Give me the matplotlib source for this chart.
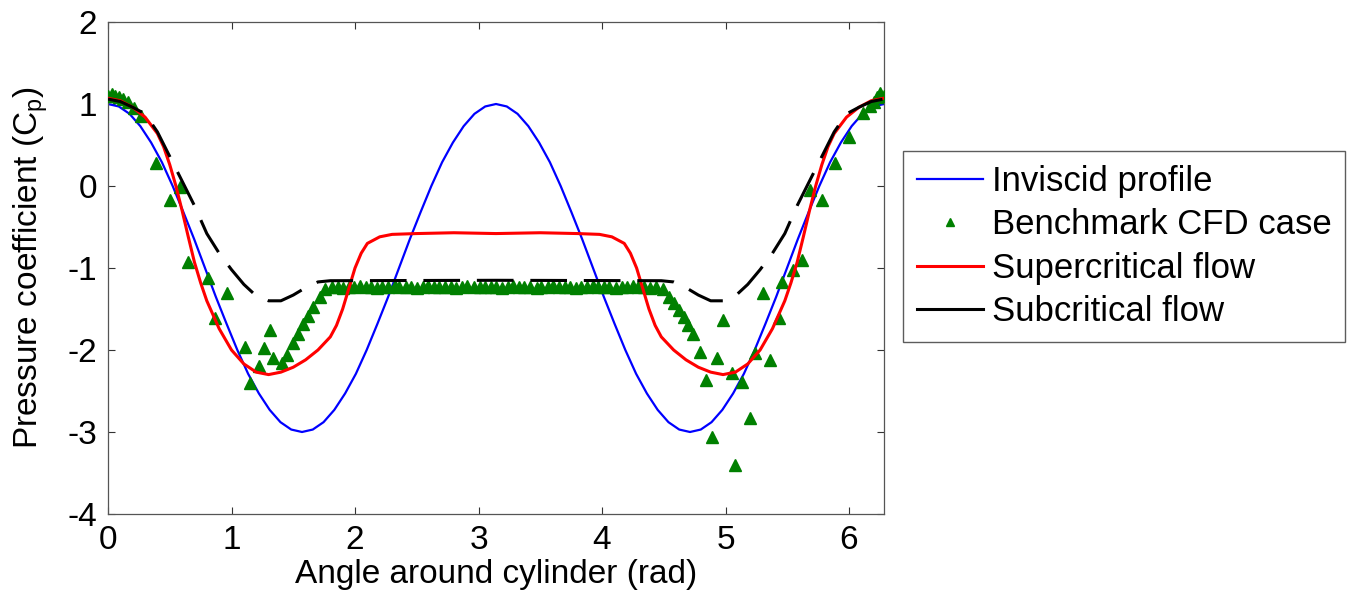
import numpy as np
import matplotlib
matplotlib.use("Agg")
import matplotlib.pyplot as plt

plt.rcParams["font.family"] = ["Liberation Sans", "DejaVu Sans"]
plt.rcParams["mathtext.fontset"] = "custom"
plt.rcParams["mathtext.rm"] = "Liberation Sans"
plt.rcParams["axes.unicode_minus"] = False

# Inviscid profile, sampled every 5 degrees around the cylinder
ANGLE_INV = np.deg2rad(np.arange(0, 361, 5))
CP_INV = [
    1.00, 0.97, 0.88, 0.73, 0.53, 0.29, 0.00, -0.32, -0.65, -1.00,
    -1.35, -1.68, -2.00, -2.29, -2.53, -2.73, -2.88, -2.97, -3.00,
    -2.97, -2.88, -2.73, -2.53, -2.29, -2.00, -1.68, -1.35, -1.00,
    -0.65, -0.32, 0.00, 0.29, 0.53, 0.73, 0.88, 0.97, 1.00,
    0.97, 0.88, 0.73, 0.53, 0.29, 0.00, -0.32, -0.65, -1.00,
    -1.35, -1.68, -2.00, -2.29, -2.53, -2.73, -2.88, -2.97, -3.00,
    -2.97, -2.88, -2.73, -2.53, -2.29, -2.00, -1.68, -1.35, -1.00,
    -0.65, -0.32, 0.00, 0.29, 0.53, 0.73, 0.88, 0.97, 1.00,
]

# Supercritical flow
ANGLE_SUP = [
    0.00, 0.10, 0.20, 0.30, 0.40, 0.45, 0.50, 0.55, 0.60, 0.65, 0.70, 0.75,
    0.80, 0.90, 1.00, 1.10, 1.20, 1.30, 1.40, 1.50, 1.60, 1.70, 1.80, 1.85,
    1.90, 1.95, 2.00, 2.05, 2.10, 2.20, 2.30, 2.50, 2.80, 3.14, 3.50, 3.80,
    3.98, 4.08, 4.18, 4.23, 4.28, 4.33, 4.38, 4.43, 4.48, 4.58, 4.68, 4.78,
    4.88, 4.98, 5.08, 5.18, 5.28, 5.38, 5.48, 5.53, 5.58, 5.63, 5.68, 5.73,
    5.78, 5.83, 5.88, 5.98, 6.08, 6.18, 6.28,
]
CP_SUP = [
    1.07, 1.04, 0.96, 0.84, 0.64, 0.48, 0.26, 0.00, -0.30, -0.62, -0.93, -1.18,
    -1.40, -1.74, -2.00, -2.17, -2.27, -2.30, -2.27, -2.21, -2.12, -2.00, -1.84, -1.70,
    -1.50, -1.25, -1.00, -0.82, -0.70, -0.62, -0.59, -0.58, -0.57, -0.58, -0.57, -0.58,
    -0.59, -0.62, -0.70, -0.82, -1.00, -1.25, -1.50, -1.70, -1.84, -2.00, -2.12, -2.21,
    -2.27, -2.30, -2.27, -2.17, -2.00, -1.74, -1.40, -1.18, -0.93, -0.62, -0.30, 0.00,
    0.26, 0.48, 0.64, 0.84, 0.96, 1.04, 1.07,
]

# Subcritical flow
ANGLE_SUB = [
    0.00, 0.10, 0.20, 0.30, 0.40, 0.50, 0.60, 0.70, 0.80, 0.90, 1.00, 1.10,
    1.20, 1.30, 1.40, 1.50, 1.60, 1.70, 1.80, 3.14, 4.48, 4.58, 4.68, 4.78,
    4.88, 4.98, 5.08, 5.18, 5.28, 5.38, 5.48, 5.58, 5.68, 5.78, 5.88, 5.98,
    6.08, 6.18, 6.28,
]
CP_SUB = [
    1.06, 1.03, 0.96, 0.88, 0.66, 0.36, 0.06, -0.24, -0.58, -0.82, -1.02, -1.20,
    -1.34, -1.40, -1.40, -1.33, -1.24, -1.17, -1.155, -1.15, -1.155, -1.17, -1.24, -1.33,
    -1.40, -1.40, -1.34, -1.20, -1.02, -0.82, -0.58, -0.24, 0.06, 0.36, 0.66, 0.88,
    0.96, 1.03, 1.06,
]

# Benchmark CFD case
ANGLE_CFD = [
    0.00, 0.03, 0.06, 0.09, 0.12, 0.16, 0.21, 0.27, 0.39, 0.50, 0.58, 0.65,
    0.81, 0.87, 0.96, 1.11, 1.15, 1.22, 1.26, 1.31, 1.34, 1.41, 1.45, 1.50,
    1.54, 1.58, 1.62, 1.66, 1.72, 1.76,
    1.81, 1.86, 1.90, 1.95, 1.99, 2.04, 2.09, 2.13, 2.18, 2.22, 2.27, 2.32,
    2.36, 2.41, 2.45, 2.50, 2.55, 2.59, 2.64, 2.68, 2.73, 2.78, 2.82, 2.87,
    2.91, 2.96, 3.01, 3.05, 3.10, 3.14, 3.19, 3.24, 3.28, 3.33, 3.37, 3.42,
    3.47, 3.51, 3.56, 3.60, 3.65, 3.70, 3.74, 3.79, 3.83, 3.88, 3.93, 3.97,
    4.02, 4.06, 4.11, 4.16, 4.20, 4.25, 4.29, 4.34, 4.39, 4.44, 4.49,
    4.54, 4.58, 4.62, 4.66, 4.70, 4.74, 4.79, 4.84, 4.89, 4.93, 4.98, 5.05,
    5.08, 5.13, 5.20, 5.24, 5.30, 5.36, 5.43, 5.46, 5.55, 5.62, 5.68, 5.78,
    5.89, 6.00, 6.11, 6.17, 6.20, 6.23, 6.25, 6.28,
]
CP_CFD = [
    1.10, 1.12, 1.10, 1.08, 1.06, 1.02, 0.95, 0.85, 0.28, -0.17, -0.01, -0.93,
    -1.12, -1.61, -1.31, -1.96, -2.40, -2.20, -1.98, -1.76, -2.10, -2.16, -2.06, -1.92,
    -1.80, -1.68, -1.58, -1.48, -1.35, -1.25,
    -1.23, -1.23, -1.24, -1.23, -1.23, -1.22, -1.23, -1.23, -1.24, -1.23, -1.23, -1.22,
    -1.23, -1.23, -1.23, -1.24, -1.23, -1.22, -1.23, -1.23, -1.23, -1.23, -1.24, -1.23,
    -1.22, -1.23, -1.23, -1.23, -1.23, -1.23, -1.24, -1.23, -1.22, -1.23, -1.23, -1.23,
    -1.24, -1.23, -1.23, -1.22, -1.23, -1.23, -1.23, -1.24, -1.23, -1.23, -1.22, -1.23,
    -1.23, -1.23, -1.24, -1.23, -1.23, -1.22, -1.23, -1.23, -1.24, -1.23, -1.25,
    -1.35, -1.43, -1.51, -1.60, -1.70, -1.80, -2.02, -2.37, -3.06, -2.10, -1.63, -2.28,
    -3.40, -2.39, -2.83, -2.04, -1.31, -2.12, -1.61, -1.17, -1.02, -0.90, -0.05, -0.17,
    0.28, 0.60, 0.89, 0.98, 1.03, 1.08, 1.13, 1.10,
]

fig = plt.figure(figsize=(13.49, 6.0), dpi=100)
ax = fig.add_axes([108 / 1349, 86 / 600, 776 / 1349, 492 / 600])

ax.plot(ANGLE_INV, CP_INV, color="#0000ff", lw=1.6, label="Inviscid profile", zorder=2)
ax.plot(ANGLE_CFD, CP_CFD, ls="none", marker="^", ms=8, color="#008000",
        mec="#008000", label="Benchmark CFD case", zorder=3)
ax.plot(ANGLE_SUP, CP_SUP, color="#ff0000", lw=2.2, label="Supercritical flow", zorder=4)
ax.plot(ANGLE_SUB, CP_SUB, color="black", lw=2.2, ls=(0, (12, 5.5)),
        label="Subcritical flow", zorder=5)

ax.set_xlim(0, 2 * np.pi)
ax.set_ylim(-4, 2)
ax.set_xticks(range(0, 7))
ax.set_yticks(range(-4, 3))
ax.tick_params(direction="in", length=5, width=0.8, top=True, right=True,
               labelsize=24, pad=8, color="#333333")
for s in ax.spines.values():
    s.set_color("#555555")
    s.set_linewidth(0.9)

ax.set_xlabel("Angle around cylinder (rad)", fontsize=24, labelpad=2)
ax.set_ylabel(r"Pressure coefficient (C$_\mathregular{p}$)", fontsize=24, labelpad=12)

leg = fig.legend(
    loc="upper left", bbox_to_anchor=(903 / 1349, 1 - 151 / 600),
    fontsize=25, frameon=True, fancybox=False, numpoints=1, markerscale=0.75,
    handlelength=1.9, handletextpad=0.25, labelspacing=0.3,
    borderpad=0.4, borderaxespad=0.0,
)
leg.get_frame().set_edgecolor("#333333")
leg.get_frame().set_linewidth(1.0)
# legend shows the dashed subcritical entry as a solid line, as in the original
leg.get_lines()[3].set_linestyle("-")

fig.savefig("out.png", dpi=100)
